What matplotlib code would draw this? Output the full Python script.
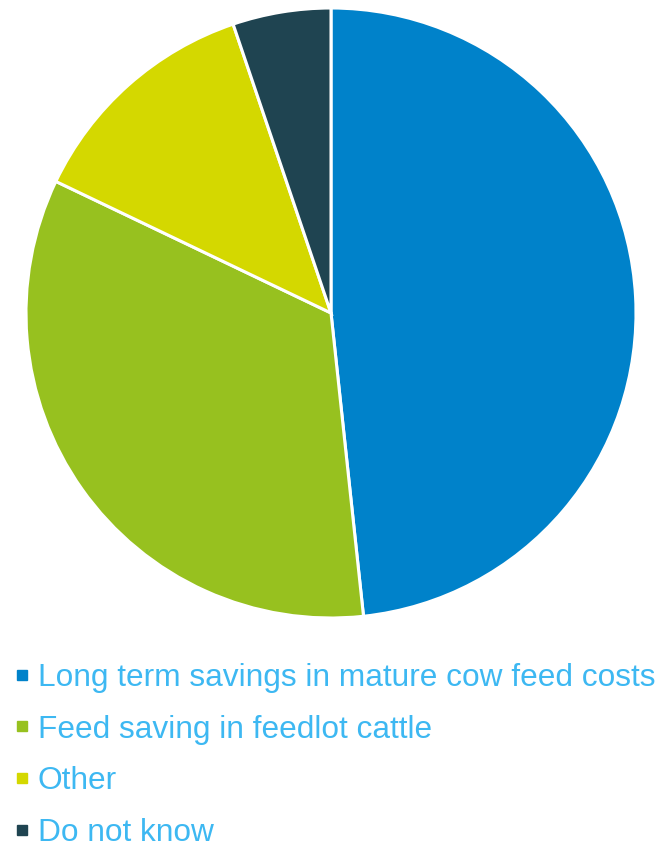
import matplotlib.pyplot as plt
from matplotlib.lines import Line2D

plt.rcParams["font.family"] = ["Liberation Sans", "DejaVu Sans"]

labels = ["Long term savings in mature cow feed costs",
          "Feed saving in feedlot cattle",
          "Other",
          "Do not know"]
shares = [48.3, 33.8, 12.7, 5.2]
colors = ["#0082CA", "#97C11F", "#D4D800", "#1F4451"]
text_color = "#3DB8F2"

W, H = 671, 842
fig = plt.figure(figsize=(W / 100, H / 100), dpi=100)

# pie: centre (331, 313) px, radius 305 px
ax = fig.add_axes([26 / W, (H - 618) / H, 610 / W, 610 / H])
ax.pie(shares, colors=colors, startangle=90, counterclock=False,
       wedgeprops=dict(edgecolor="white", linewidth=2.2))
ax.set_xlim(-1, 1)
ax.set_ylim(-1, 1)
ax.set_aspect("equal")
ax.axis("off")

handles = [Line2D([0], [0], marker="s", linestyle="none", markersize=7.5,
                  markerfacecolor=c, markeredgecolor=c) for c in colors]
leg = fig.legend(handles, labels, loc="upper left",
                 bbox_to_anchor=(14 / W, 1 - 663 / H), frameon=False,
                 fontsize=22.8, handlelength=0.5, handletextpad=0.25,
                 labelspacing=0.68, borderpad=0, borderaxespad=0)
for t in leg.get_texts():
    t.set_color(text_color)

fig.savefig("out.png", dpi=100)
